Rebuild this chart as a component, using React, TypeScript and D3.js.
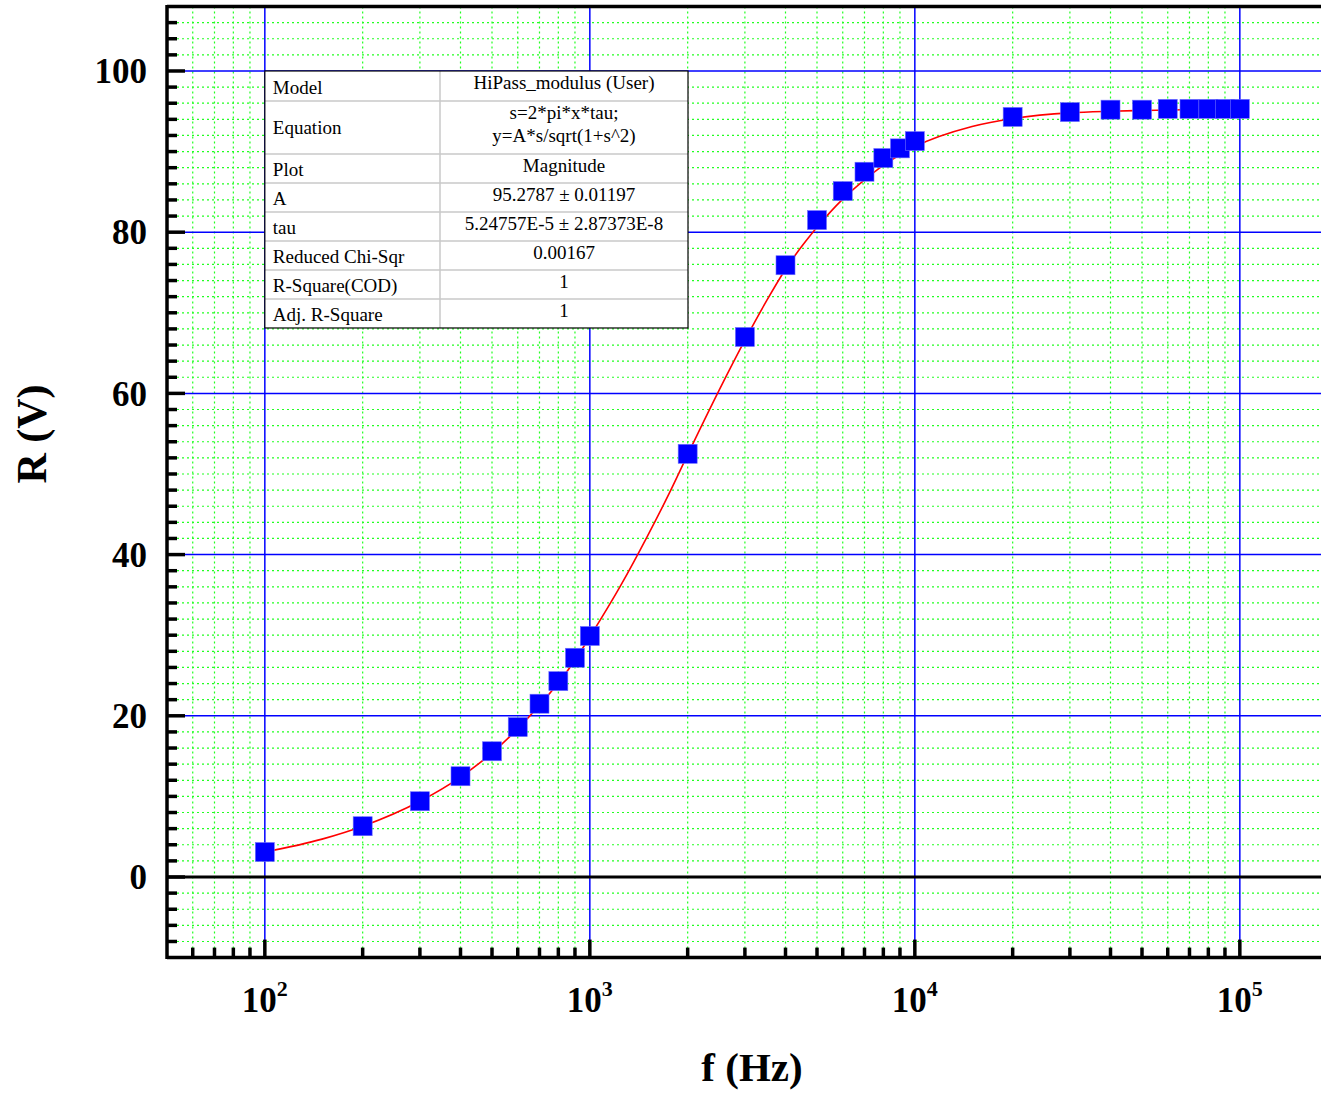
import React from "react";
import * as d3 from "d3";

const freqs = [100, 200, 300, 400, 500, 600, 700, 800, 900, 1000, 2000, 3000, 4000, 5000, 6000, 7000, 8000, 9000, 10000, 20000, 30000, 40000, 50000, 60000, 70000, 80000, 90000, 100000];
const rVals = [3.1, 6.3, 9.4, 12.5, 15.6, 18.6, 21.5, 24.3, 27.2, 29.9, 52.5, 67.0, 75.9, 81.5, 85.1, 87.5, 89.2, 90.4, 91.3, 94.3, 94.9, 95.2, 95.2, 95.3, 95.3, 95.3, 95.3, 95.3];

const fitFreqs = [100, 150, 200, 300, 400, 500, 600, 700, 800, 900, 1000, 1250, 1500, 1750, 2000, 2500, 3000, 3500, 4000, 5000, 6000, 7000, 8000, 9000, 10000, 15000, 20000, 30000, 40000, 50000, 70000, 100000];
const fitVals = [3.1, 4.7, 6.3, 9.4, 12.4, 15.4, 18.4, 21.3, 24.1, 26.9, 29.8, 36.3, 42.2, 47.5, 52.4, 60.4, 66.6, 71.5, 75.4, 80.6, 84.1, 86.5, 88.3, 89.6, 90.6, 93.1, 94.1, 94.8, 95.0, 95.1, 95.2, 95.25];

const yMajorTicks = [0, 20, 40, 60, 80, 100];
const xMajorTicks = [100, 1000, 10000, 100000];
const xTickLabels = ["2", "3", "4", "5"];

const tableRows: [string, string[]][] = [
  ["Model", ["HiPass_modulus (User)"]],
  ["Equation", ["s=2*pi*x*tau;", "y=A*s/sqrt(1+s^2)"]],
  ["Plot", ["Magnitude"]],
  ["A", ["95.2787 \u00b1 0.01197"]],
  ["tau", ["5.24757E-5 \u00b1 2.87373E-8"]],
  ["Reduced Chi-Sqr", ["0.00167"]],
  ["R-Square(COD)", ["1"]],
  ["Adj. R-Square", ["1"]],
];
const rowHeights = [30, 53, 29, 29, 29, 29, 29, 29];

const W = 1321;
const H = 1095;
const left = 167;
const top = 6.5;
const bottom = 957.6;

export default function App() {
  const x = d3.scaleLog().domain([50, 200000]).range([left, left + Math.log10(4000) * 325]);
  const y = d3.scaleLinear().domain([-10, 108]).range([bottom, top]);
  const xMax = W + 20;

  const xMinor: number[] = [];
  for (const dec of [10, 100, 1000, 10000, 100000]) {
    for (let m = 2; m <= 9; m++) {
      const v = dec * m;
      if (v > 50 && v < 200000) xMinor.push(v);
    }
  }
  const yMinor: number[] = [];
  for (let v = -8; v <= 106; v += 2) if (v % 20 !== 0) yMinor.push(v);

  const line = d3
    .line<number>()
    .x((_, i) => x(fitFreqs[i]))
    .y((d) => y(d))
    .curve(d3.curveMonotoneX);

  const font = "'Liberation Serif', 'Times New Roman', serif";
  const green = "#22ff22";
  const blue = "#0000ff";

  const tX0 = x(100);
  const tX1 = 688;
  const tXm = 440;
  const tY0 = y(100);
  const rowYs: number[] = [tY0];
  rowHeights.forEach((h, i) => rowYs.push(rowYs[i] + h));

  return (
    <svg width={W} height={H} style={{ position: "absolute", left: 0, top: 0, background: "#fff" }}>
      <rect x={0} y={0} width={W} height={H} fill="#fff" />
      {xMinor.map((v) => (
        <line key={"gx" + v} x1={x(v)} x2={x(v)} y1={top} y2={bottom} stroke={green} strokeWidth={1.2} strokeDasharray="2,3" />
      ))}
      {yMinor.map((v) => (
        <line key={"gy" + v} x1={left} x2={xMax} y1={y(v)} y2={y(v)} stroke={green} strokeWidth={1.2} strokeDasharray="2,3" />
      ))}
      {xMajorTicks.map((v) => (
        <line key={"Gx" + v} x1={x(v)} x2={x(v)} y1={top} y2={bottom} stroke={blue} strokeWidth={1.5} />
      ))}
      {yMajorTicks.filter((v) => v !== 0).map((v) => (
        <line key={"Gy" + v} x1={left} x2={xMax} y1={y(v)} y2={y(v)} stroke={blue} strokeWidth={1.5} />
      ))}
      <line x1={left} x2={xMax} y1={y(0)} y2={y(0)} stroke="#000" strokeWidth={3} />

      <path d={line(fitVals) || ""} fill="none" stroke="#ff0000" strokeWidth={1.6} />

      {freqs.map((f, i) => (
        <rect key={"m" + f} x={x(f) - 9.5} y={y(rVals[i]) - 9.5} width={19} height={19} fill={blue} stroke="#6f6fff" strokeWidth={0.6} />
      ))}

      <g fontFamily={font} fontSize={19} fill="#000">
        <rect x={tX0} y={tY0} width={tX1 - tX0} height={rowYs[rowYs.length - 1] - tY0} fill="#fff" />
        {rowYs.slice(1, -1).map((ry, i) => (
          <line key={"tr" + i} x1={tX0} x2={tX1} y1={ry} y2={ry} stroke="#c8c8c8" strokeWidth={1.5} />
        ))}
        <line x1={tXm} x2={tXm} y1={tY0} y2={rowYs[rowYs.length - 1]} stroke="#c8c8c8" strokeWidth={1.5} />
        <rect x={tX0} y={tY0} width={tX1 - tX0} height={rowYs[rowYs.length - 1] - tY0} fill="none" stroke="#000" strokeWidth={1.2} />
        {tableRows.map(([name, vals], i) => {
          const cy = (rowYs[i] + rowYs[i + 1]) / 2;
          return (
            <g key={"row" + i}>
              <text x={tX0 + 8} y={cy + 7 + (vals.length > 1 ? 0 : 1)}>{name}</text>
              {vals.map((v, j) => (
                <text key={j} x={(tXm + tX1) / 2} y={rowYs[i] + 18 + j * 23} textAnchor="middle">
                  {v}
                </text>
              ))}
            </g>
          );
        })}
      </g>

      <line x1={left} x2={xMax} y1={top} y2={top} stroke="#000" strokeWidth={3.5} />
      <line x1={left} x2={xMax} y1={bottom} y2={bottom} stroke="#000" strokeWidth={3.5} />
      <line x1={left} x2={left} y1={top - 1.5} y2={bottom + 1.5} stroke="#000" strokeWidth={3.5} />

      {yMinor.map((v) => (
        <line key={"ty" + v} x1={left} x2={left + 10} y1={y(v)} y2={y(v)} stroke="#000" strokeWidth={3.5} />
      ))}
      {yMajorTicks.map((v) => (
        <line key={"TY" + v} x1={left} x2={left + 18} y1={y(v)} y2={y(v)} stroke="#000" strokeWidth={3.5} />
      ))}
      {xMinor.map((v) => (
        <line key={"tx" + v} x1={x(v)} x2={x(v)} y1={bottom} y2={bottom - 10} stroke="#000" strokeWidth={3.5} />
      ))}
      {xMajorTicks.map((v) => (
        <line key={"TX" + v} x1={x(v)} x2={x(v)} y1={bottom} y2={bottom - 18} stroke="#000" strokeWidth={3.5} />
      ))}

      <g fontFamily={font} fontWeight="bold" fontSize={35} fill="#000">
        {yMajorTicks.map((v) => (
          <text key={"ly" + v} x={147} y={y(v)} dy="0.35em" textAnchor="end">
            {v}
          </text>
        ))}
        {xMajorTicks.map((v, i) => (
          <text key={"lx" + v} x={x(v)} y={1012} textAnchor="middle">
            10
            <tspan fontSize={22} dy={-16}>{xTickLabels[i]}</tspan>
          </text>
        ))}
      </g>

      <text x={752} y={1081} textAnchor="middle" fontFamily={font} fontWeight="bold" fontSize={41}>
        f (Hz)
      </text>
      <text transform="translate(46,434) rotate(-90)" textAnchor="middle" fontFamily={font} fontWeight="bold" fontSize={42}>
        R (V)
      </text>
    </svg>
  );
}
